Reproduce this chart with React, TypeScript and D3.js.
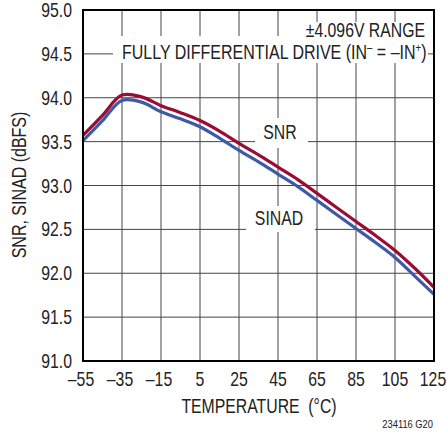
import React from "react";
import * as d3 from "d3";

const temps = [-55, -45, -35, -25, -15, -5, 5, 15, 25, 35, 45, 55, 65, 75, 85, 95, 105, 115, 125];
const snr = [93.57, 93.8, 94.03, 94.01, 93.91, 93.83, 93.74, 93.62, 93.48, 93.35, 93.21, 93.07, 92.91, 92.75, 92.59, 92.43, 92.26, 92.06, 91.84];
const sinad = [93.51, 93.74, 93.97, 93.95, 93.84, 93.76, 93.67, 93.54, 93.4, 93.27, 93.13, 92.99, 92.83, 92.67, 92.51, 92.35, 92.18, 91.97, 91.76];
const xTicks = [-55, -35, -15, 5, 25, 45, 65, 85, 105, 125];
const yTicks = [91.0, 91.5, 92.0, 92.5, 93.0, 93.5, 94.0, 94.5, 95.0];

const W = 447;
const H = 433;
const left = 83;
const right = 434;
const top = 10;
const bottom = 361;
const FONT = "'Liberation Sans', Arial, sans-serif";

const x = d3.scaleLinear().domain([-55, 125]).range([left, right]);
const y = d3.scaleLinear().domain([91, 95]).range([bottom, top]);

const fmtX = (v: number) => (v < 0 ? "\u2013" + Math.abs(v) : String(v));

// condensed text: horizontal squeeze round the anchor point
function Txt(props: {
  x: number;
  y: number;
  anchor?: string;
  size?: number;
  sq?: number;
  rotate?: boolean;
  children: React.ReactNode;
}) {
  const { anchor = "start", size = 20, sq = 0.79, rotate = false } = props;
  const tf = `translate(${props.x},${props.y})${rotate ? " rotate(-90)" : ""} scale(${sq},1)`;
  return (
    <text transform={tf} textAnchor={anchor} fontSize={size} fill="#222" style={{ whiteSpace: "pre" }}>
      {props.children}
    </text>
  );
}

export default function App() {
  const line = d3
    .line<number>()
    .x((_, i) => x(temps[i]))
    .y((d) => y(d))
    .curve(d3.curveCatmullRom.alpha(0.5));

  const grid = "#444";
  return (
    <svg
      width={W}
      height={H}
      style={{ position: "absolute", left: 0, top: 0, background: "#fff" }}
      fontFamily={FONT}
    >
      {/* grid */}
      {xTicks.map((t) => (
        <line key={"gx" + t} x1={x(t)} x2={x(t)} y1={top} y2={bottom} stroke={grid} strokeWidth={1} />
      ))}
      {yTicks.map((t) => (
        <line key={"gy" + t} x1={left} x2={right} y1={y(t)} y2={y(t)} stroke={grid} strokeWidth={1} />
      ))}

      {/* label knockouts */}
      <rect x={300} y={22} width={130} height={16} fill="#fff" />
      <rect x={113} y={36} width={315} height={27} fill="#fff" />
      <rect x={255} y={118} width={53} height={30} fill="#fff" />
      <rect x={246} y={206} width={69} height={26} fill="#fff" />

      {/* curves */}
      <path d={line(sinad) ?? ""} fill="none" stroke="#3d5aa8" strokeWidth={3.2} />
      <path d={line(snr) ?? ""} fill="none" stroke="#9a0c34" strokeWidth={3.2} />

      {/* frame */}
      <rect x={left} y={top} width={right - left} height={bottom - top} fill="none" stroke="#000" strokeWidth={2} />

      {yTicks.map((t) => (
        <Txt key={"ly" + t} x={72} y={y(t) + 7} anchor="end">
          {t.toFixed(1)}
        </Txt>
      ))}
      {xTicks.map((t) => (
        <Txt key={"lx" + t} x={x(t) - (t < 0 ? 2 : 0) - (t === 125 ? 1 : 0)} y={386} anchor="middle">
          {fmtX(t)}
        </Txt>
      ))}

      <Txt x={259} y={413} anchor="middle">
        {"TEMPERATURE  (\u00B0C)"}
      </Txt>
      <Txt x={26} y={185} anchor="middle" sq={0.8} rotate>
        SNR, SINAD (dBFS)
      </Txt>

      <Txt x={425} y={37} anchor="end">
        {"\u00B14.096V RANGE"}
      </Txt>
      <Txt x={122} y={59} sq={0.8}>
        FULLY DIFFERENTIAL DRIVE (IN
        <tspan fontSize={12} dy={-7}>{"\u2013"}</tspan>
        <tspan dy={7}>{" = \u2013IN"}</tspan>
        <tspan fontSize={12} dy={-7}>+</tspan>
        <tspan dy={7}>)</tspan>
      </Txt>
      <Txt x={280} y={139} anchor="middle">
        SNR
      </Txt>
      <Txt x={279} y={225} anchor="middle">
        SINAD
      </Txt>
      <Txt x={433} y={428} anchor="end" size={11} sq={0.85}>
        234116 G20
      </Txt>
    </svg>
  );
}
